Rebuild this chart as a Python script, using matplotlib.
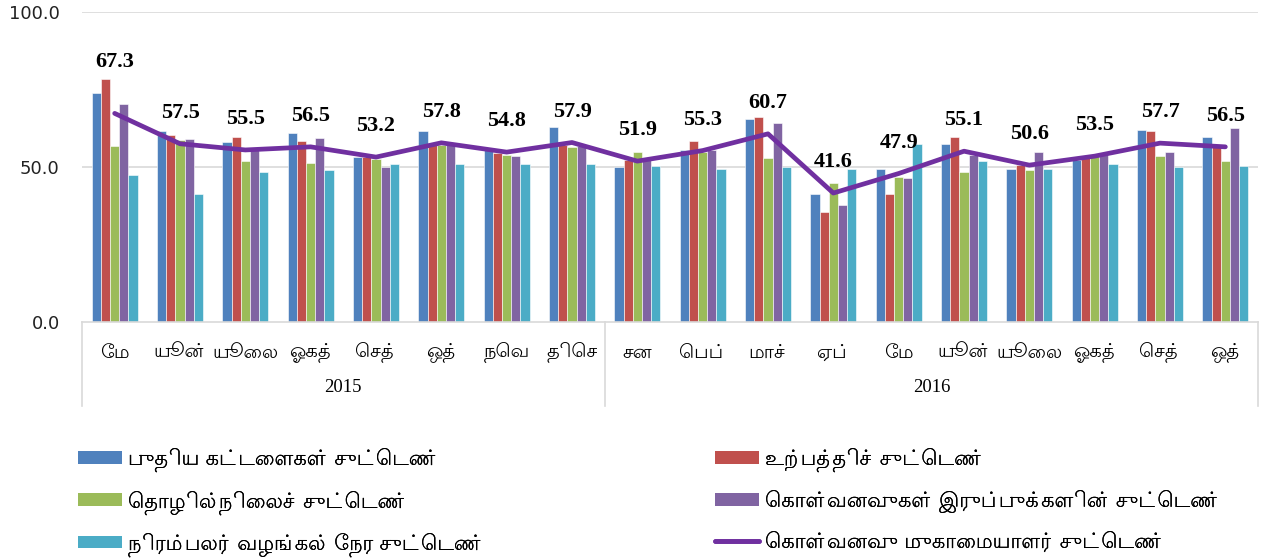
import matplotlib
matplotlib.use("Agg")
import matplotlib.pyplot as plt
import numpy as np
from matplotlib import font_manager as fm
from matplotlib.ft2font import FT2Font
from matplotlib.transforms import blended_transform_factory
from matplotlib.lines import Line2D
from matplotlib.patches import Patch

# ---------------- data ----------------
months = ["மே", "யூன்", "யூலை", "ஓகத்", "செத்", "ஒத்", "நவெ", "திசெ",
          "சன", "பெப்", "மாச்", "ஏப்", "மே", "யூன்", "யூலை", "ஓகத்", "செத்", "ஒத்"]
years = ["2015", "2016"]
year_counts = [8, 10]

series_names = ["புதிய கட்டளைகள் சுட்டெண்",
                "உற்பத்திச் சுட்டெண்",
                "தொழில்நிலைச் சுட்டெண்",
                "கொள்வனவுகள் இருப்புக்களின் சுட்டெண்",
                "நிரம்பலர் வழங்கல் நேர சுட்டெண்"]
line_name = "கொள்வனவு முகாமையாளர் சுட்டெண்"

new_orders = [73.8, 61.7, 58.0, 61.0, 53.3, 61.5, 55.5, 63.0, 50.0, 55.5, 65.5, 41.4, 49.5, 57.4, 49.5, 52.3, 61.9, 59.6]
production = [78.4, 60.4, 59.6, 58.5, 53.3, 57.0, 54.4, 57.0, 52.3, 58.5, 66.0, 35.4, 41.4, 59.6, 50.6, 53.0, 61.5, 57.0]
employment = [56.9, 58.7, 51.9, 51.4, 52.6, 57.0, 53.9, 56.6, 54.9, 55.0, 53.0, 44.9, 46.9, 48.4, 48.9, 54.0, 53.5, 51.9]
stocks = [70.3, 59.0, 55.7, 59.5, 50.0, 57.0, 53.4, 56.8, 52.3, 55.5, 64.1, 37.8, 46.6, 53.9, 54.9, 54.5, 54.9, 62.5]
delivery = [47.4, 41.2, 48.4, 48.9, 50.9, 50.9, 50.9, 50.9, 50.4, 49.5, 50.0, 49.5, 57.4, 51.9, 49.5, 50.9, 50.0, 50.4]
pmi = [67.3, 57.5, 55.5, 56.5, 53.2, 57.8, 54.8, 57.9, 51.9, 55.3, 60.7, 41.6, 47.9, 55.1, 50.6, 53.5, 57.7, 56.5]

# ---------------- fonts ----------------
cands = []
for f in fm.fontManager.ttflist:
    try:
        ft = FT2Font(f.fname)
        if 0x0BA4 in ft.get_charmap():
            cands.append(f.name)
    except Exception:
        pass
cands = sorted(set(cands), key=lambda n: (0 if "Lohit" in n else (1 if "Tamil" in n else 2), n))
tamil_font = cands[0] if cands else None
tfam = [tamil_font, "DejaVu Sans"] if tamil_font else ["DejaVu Sans"]

# matplotlib draws glyphs in logical order without shaping: put Tamil
# pre-base vowel signs in front of their consonant so they read correctly.
PRE = {"\u0BC6", "\u0BC7", "\u0BC8"}
SPLIT = {"\u0BCA": ("\u0BC6", "\u0BBE"), "\u0BCB": ("\u0BC7", "\u0BBE"),
         "\u0BCC": ("\u0BC6", "\u0BD7")}


def visual(s):
    out = []
    for ch in s:
        if ch in PRE and out:
            c = out.pop()
            out += [ch, c]
        elif ch in SPLIT and out:
            c = out.pop()
            a, b = SPLIT[ch]
            out += [a, c, b]
        else:
            out.append(ch)
    return "".join(out)


colors = ["#4F81BD", "#C0504D", "#9BBB59", "#8064A2", "#4BACC6"]
line_color = "#7030A0"

fig = plt.figure(figsize=(12.64, 5.6), dpi=100)
ax = fig.add_axes([82 / 1264, (560 - 322) / 560, (1258 - 82) / 1264, (322 - 12) / 560])

x = np.arange(len(months))
bw = 0.14
all_series = [new_orders, production, employment, stocks, delivery]
for i, (vals, c) in enumerate(zip(all_series, colors)):
    ax.bar(x + (i - 2) * bw, vals, width=bw, color=c, edgecolor="white", linewidth=0.4, zorder=2)

ax.plot(x, pmi, color=line_color, linewidth=3.4, zorder=3, solid_capstyle="round")
for i, v in enumerate(pmi):
    off = 51 if i == 0 else 31
    ax.annotate(f"{v:.1f}", (x[i], v), xytext=(0, off * 0.72), textcoords="offset points",
                ha="center", va="center", fontsize=16, fontweight="bold",
                family="Liberation Serif", zorder=4)

ax.set_xlim(-0.5, len(months) - 0.5)
ax.set_ylim(0, 100)
ax.set_yticks([0, 50, 100])
ax.set_yticklabels(["0.0", "50.0", "100.0"], fontsize=13, family="DejaVu Sans", color="#222222")
ax.tick_params(axis="y", length=0, pad=16)
ax.tick_params(axis="x", length=0, labelbottom=False)
for y in [50, 100]:
    ax.axhline(y, color="#D9D9D9", linewidth=1.2, zorder=1)
for s in ["top", "right", "left"]:
    ax.spines[s].set_visible(False)
ax.spines["bottom"].set_color("#D9D9D9")
ax.spines["bottom"].set_linewidth(1.2)

trans = blended_transform_factory(ax.transData, fig.transFigure)
y_cat = 1 - 352 / 560
y_year = 1 - 388 / 560
for i, m in enumerate(months):
    ax.text(x[i], y_cat, visual(m), transform=trans, ha="center", va="center",
            fontsize=14, family=tfam, color="#000000")
bounds = [-0.5]
start = 0
for yr, n in zip(years, year_counts):
    center = start + (n - 1) / 2
    ax.text(center, y_year, yr, transform=trans, ha="center", va="center",
            fontsize=13.5, family="Liberation Serif", color="#000000")
    start += n
    bounds.append(start - 0.5)
for b in bounds:
    ax.add_line(Line2D([b, b], [1 - 322 / 560, 1 - 406 / 560], transform=trans,
                       color="#D9D9D9", linewidth=1.2, clip_on=False))

# legend: two columns placed separately
bar_handles = [Patch(facecolor=c) for c in colors]
line_handle = Line2D([0], [0], color=line_color, linewidth=3.4, solid_capstyle="round")
col1 = ([bar_handles[0], bar_handles[2], bar_handles[4]],
        [visual(series_names[k]) for k in (0, 2, 4)])
col2 = ([bar_handles[1], bar_handles[3], line_handle],
        [visual(series_names[1]), visual(series_names[3]), visual(line_name)])
for (h, l), x0 in [(col1, 78), (col2, 715)]:
    lg = fig.legend(h, l, ncol=1, loc="upper left", bbox_to_anchor=(x0 / 1264, 1 - 448 / 560),
                    frameon=False, borderpad=0, borderaxespad=0,
                    prop={"family": tfam, "size": 15}, handlelength=2.1, handleheight=0.55,
                    handletextpad=0.3, labelspacing=0.85)
    fig.add_artist(lg)

fig.savefig("out.png", dpi=100)
